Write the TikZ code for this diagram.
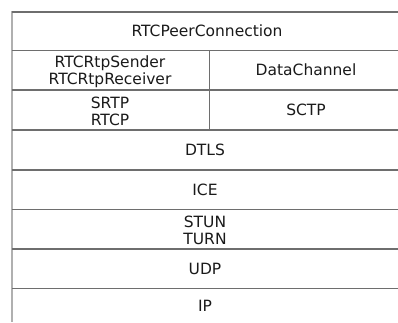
\documentclass[tikz,border=0pt]{standalone}
\usepackage{fontspec}
\setmainfont{DejaVu Sans}
\definecolor{rule}{HTML}{6E6E6E}
\definecolor{leftrule}{HTML}{B0B0B0}
\definecolor{ink}{HTML}{1A1A1A}
\begin{document}
\begin{tikzpicture}[x=1pt,y=-1pt,
  hline/.style={draw=rule,line width=1.1pt},
  vline/.style={draw=leftrule,line width=2pt},
  lbl/.style={inner sep=0pt,outer sep=0pt,text=ink,align=center,
    font=\fontsize{15.5}{17}\selectfont}]
\useasboundingbox[fill=white] (0,0) rectangle (398,322);
% grid coordinates
\foreach \n/\y in {a/12,b/50.5,c/90,d/130,e/170,f/209.5,g/249,h/288.5}{
  \coordinate (L\n) at (12,\y);
  \coordinate (R\n) at (398,\y);
}
\coordinate (Ltop) at (12,11);
\coordinate (Lbot) at (12,322);
\coordinate (Mtop) at (209.5,50.5);
\coordinate (Mbot) at (209.5,130);
\draw[vline] (Ltop) -- (Lbot);
\foreach \n in {a,b,c,d,e,f,g,h}{\draw[hline] (L\n) -- (R\n);}
\draw[hline] (Mtop) -- (Mbot);
% labels
\node[lbl] (pc)   at (207,31) {RTCPeerConnection};
\node[lbl] (rtp)  at (110,71.5) {RTCRtpSender\\RTCRtpReceiver};
\node[lbl] (dc)   at (306,70) {DataChannel};
\node[lbl] (srtp) at (110,111) {SRTP\\RTCP};
\node[lbl] (sctp) at (306,110) {SCTP};
\node[lbl] (dtls) at (205,150) {DTLS};
\node[lbl] (ice)  at (205,190) {ICE};
\node[lbl] (stun) at (205,230) {STUN\\TURN};
\node[lbl] (udp)  at (205,269) {UDP};
\node[lbl] (ip)   at (205,306) {IP};
\end{tikzpicture}
\end{document}
